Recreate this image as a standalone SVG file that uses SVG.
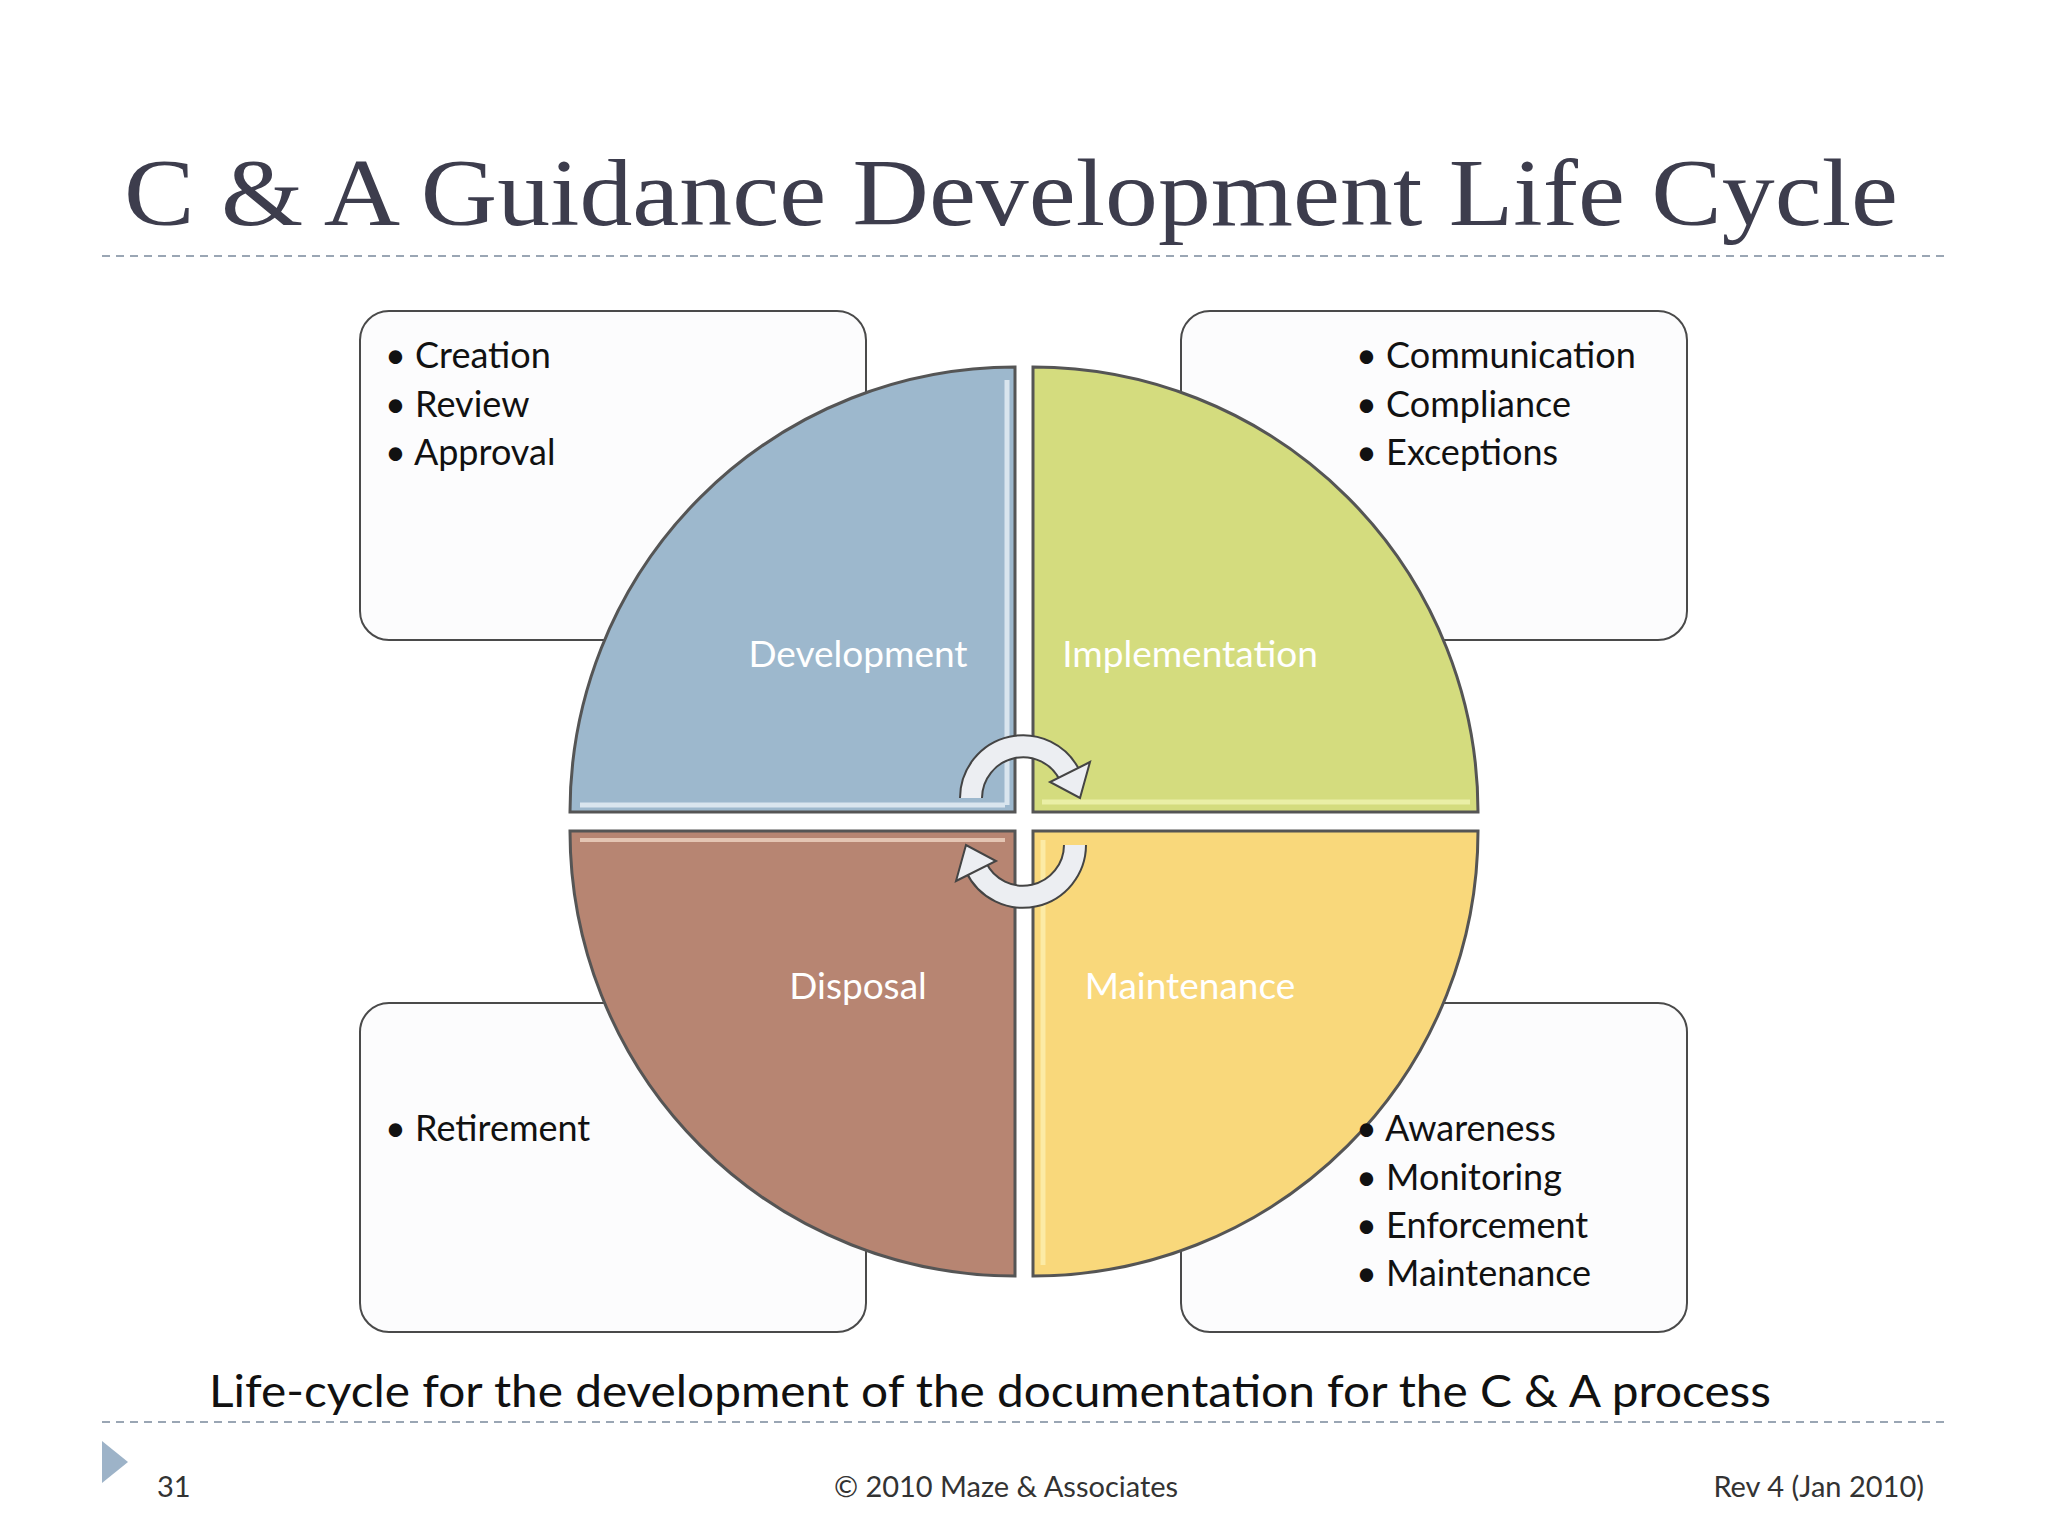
<svg xmlns="http://www.w3.org/2000/svg" width="2048" height="1536" viewBox="0 0 2048 1536">
<style>
.box{fill:#fcfcfd;stroke:#4a4a4a;stroke-width:2}
.q{stroke:#555;stroke-width:3}
.bt{font-family:Lato,"Open Sans",sans-serif;font-size:36px;fill:#111}
.ql{font-family:Lato,"Open Sans",sans-serif;font-size:37px;fill:#fff;text-anchor:middle}
.ft{font-family:Lato,"Open Sans",sans-serif;font-size:29px;fill:#333}
.dash{stroke:#9aa6b4;stroke-width:2;stroke-dasharray:8 6}
</style>
<rect width="2048" height="1536" fill="#fff"/>
<text x="124" y="225" font-family="Liberation Serif,serif" font-size="96" fill="#3d3d4d" textLength="1774" lengthAdjust="spacingAndGlyphs">C &amp; A Guidance Development Life Cycle</text>
<line class="dash" x1="102" y1="256" x2="1946" y2="256"/>
<g id="box-tl"><rect class="box" x="360" y="311" width="506" height="329" rx="29"/>
<text class="bt" x="385" y="368">• Creation</text><text class="bt" x="385" y="417">• Review</text><text class="bt" x="385" y="465">• Approval</text></g>
<g id="box-tr"><rect class="box" x="1181" y="311" width="506" height="329" rx="29"/>
<text class="bt" x="1356" y="368">• Communication</text><text class="bt" x="1356" y="417">• Compliance</text><text class="bt" x="1356" y="465">• Exceptions</text></g>
<g id="box-bl"><rect class="box" x="360" y="1003" width="506" height="329" rx="29"/>
<text class="bt" x="385" y="1141">• Retirement</text></g>
<g id="box-br"><rect class="box" x="1181" y="1003" width="506" height="329" rx="29"/></g>
<g id="q-dev"><path class="q" fill="#9db8cd" d="M1015,812 L570,812 A445,445 0 0 1 1015,367 Z"/>
<path d="M1005,805 L580,805 M1007,805 L1007,380" stroke="#e8f0f6" stroke-width="5" fill="none" opacity="0.8"/>
<text class="ql" x="858" y="667">Development</text></g>
<g id="q-imp"><path class="q" fill="#d4dc7e" d="M1033,812 L1033,367 A445,445 0 0 1 1478,812 Z"/>
<path d="M1042,802 L1470,802" stroke="#f0f4b0" stroke-width="5" opacity="0.8"/>
<text class="ql" x="1190" y="667">Implementation</text></g>
<g id="q-mnt"><path class="q" fill="#f9d87b" d="M1033,831 L1478,831 A445,445 0 0 1 1033,1276 Z"/>
<path d="M1043,840 L1043,1265" stroke="#fdf0b0" stroke-width="5" opacity="0.8"/>
<text class="ql" x="1190" y="999">Maintenance</text></g>
<g id="q-dsp"><path class="q" fill="#b78572" d="M1015,831 L1015,1276 A445,445 0 0 1 570,831 Z"/>
<path d="M580,840 L1005,840" stroke="#f0d6c4" stroke-width="4" opacity="0.8"/>
<text class="ql" x="858" y="999">Disposal</text></g>
<g id="box-br-text"><text class="bt" x="1356" y="1141">• Awareness</text><text class="bt" x="1356" y="1190">• Monitoring</text><text class="bt" x="1356" y="1238">• Enforcement</text><text class="bt" x="1356" y="1286">• Maintenance</text></g>
<g id="connectors" fill="none">
<path d="M971,798 A52,52 0 0 1 1070,776" stroke="#444" stroke-width="24"/>
<path d="M971,798 A52,52 0 0 1 1070,776" stroke="#eceef2" stroke-width="20"/>
<polygon points="1090,762 1050,782 1080,798" fill="#eceef2" stroke="#444" stroke-width="2"/>
<path d="M1075,845 A52,52 0 0 1 976,867" stroke="#444" stroke-width="24"/>
<path d="M1075,845 A52,52 0 0 1 976,867" stroke="#eceef2" stroke-width="20"/>
<polygon points="956,881 996,861 966,845" fill="#eceef2" stroke="#444" stroke-width="2"/>
</g>
<text x="209" y="1407" font-family="Lato,'Open Sans',sans-serif" font-size="45" fill="#111" textLength="1562" lengthAdjust="spacingAndGlyphs">Life-cycle for the development of the documentation for the C &amp; A process</text>
<line class="dash" x1="102" y1="1422" x2="1946" y2="1422"/>
<polygon points="102,1441 128,1462 102,1483" fill="#9db3c8"/>
<text class="ft" x="157" y="1497">31</text>
<text class="ft" x="1006" y="1497" text-anchor="middle">© 2010 Maze &amp; Associates</text>
<text class="ft" x="1924" y="1497" text-anchor="end">Rev 4 (Jan 2010)</text>
</svg>
